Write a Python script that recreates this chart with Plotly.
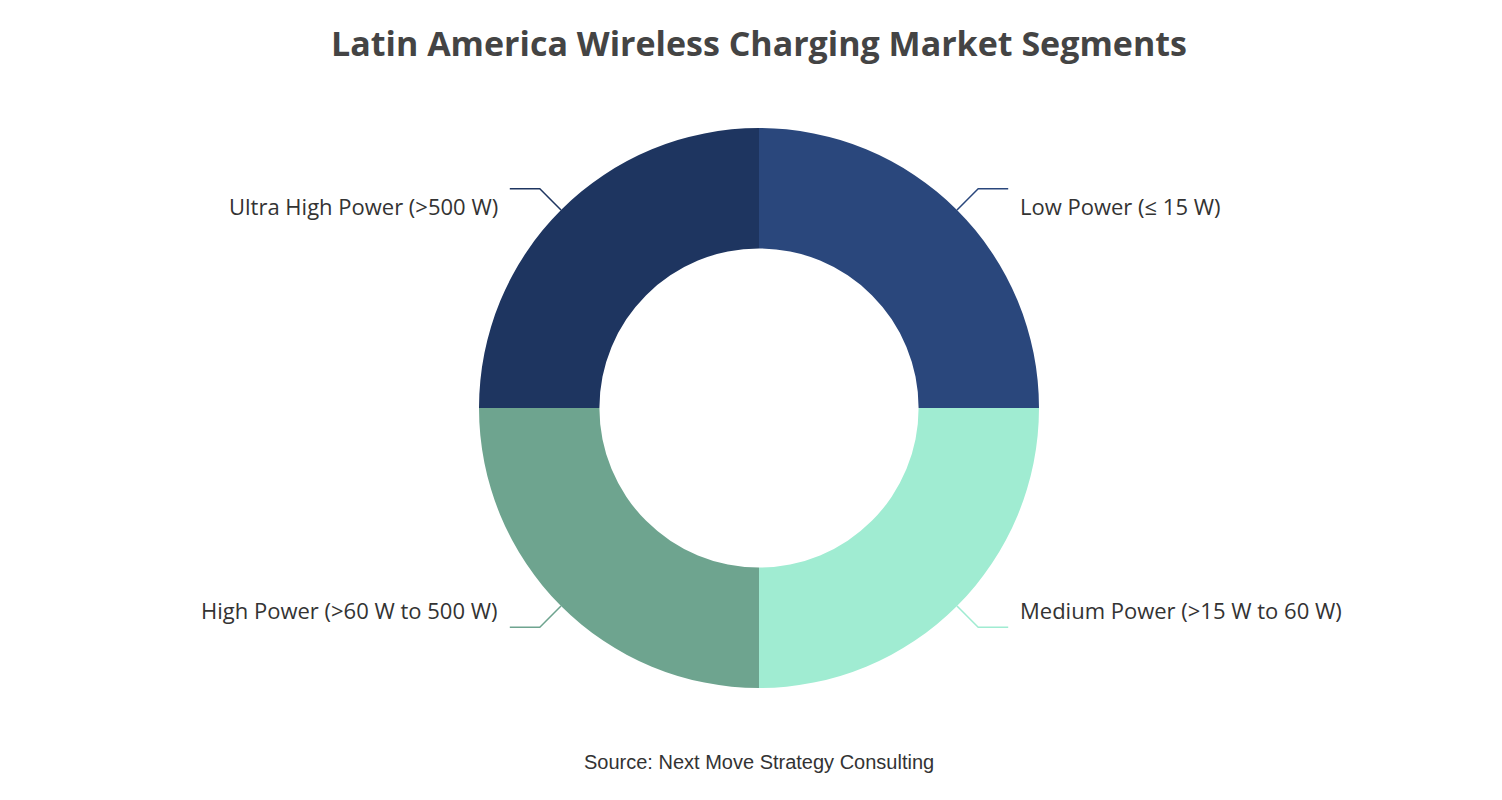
import math
import plotly.graph_objects as go

segments = ["Low Power (≤ 15 W)", "Medium Power (>15 W to 60 W)",
            "High Power (>60 W to 500 W)", "Ultra High Power (>500 W)"]
shares = [25, 25, 25, 25]
colors = ["#2a477c", "#a0ecd2", "#6ea48f", "#1e3560"]

W, H = 1502, 800
top, bottom = 120, 120
cx, cy, R = W / 2, 400, 280

fig = go.Figure(go.Pie(
    labels=segments, values=shares, hole=0.57, sort=False, direction="clockwise",
    rotation=0, marker=dict(colors=colors), textinfo="none", showlegend=False,
    domain=dict(x=[0, 1], y=[0, 1]),
))


def px(x):
    return x / W


def py(y):
    return (H - bottom - y) / (H - top - bottom)


shapes, annotations = [], []
total = sum(shares)
acc = 0
for name, val, col in zip(segments, shares, colors):
    mid = (acc + val / 2) / total * 2 * math.pi
    acc += val
    sx, sy = cx + R * math.sin(mid), cy - R * math.cos(mid)
    side = 1 if math.sin(mid) >= 0 else -1
    ex, ey = cx + (R + 30) * math.sin(mid), cy - (R + 30) * math.cos(mid)
    hx = ex + side * 30
    shapes.append(dict(type="path", xref="paper", yref="paper",
                       path=f"M {px(sx)} {py(sy)} L {px(ex)} {py(ey)} L {px(hx)} {py(ey)}",
                       line=dict(color=col, width=1.5)))
    annotations.append(dict(x=px(hx + side * 10), y=py(ey), xref="paper", yref="paper",
                            text=name, showarrow=False,
                            xanchor="left" if side > 0 else "right",
                            font=dict(family="Open Sans", size=22, color="#333")))

annotations.append(dict(x=0.5, y=py(767), xref="paper", yref="paper",
                        text="Source: Next Move Strategy Consulting", showarrow=False,
                        font=dict(family="Liberation Sans, Arial", size=20, color="#333")))

fig.update_layout(
    width=W, height=H, paper_bgcolor="white", plot_bgcolor="white",
    margin=dict(l=0, r=0, t=top, b=bottom),
    title=dict(text="<b>Latin America Wireless Charging Market Segments</b>",
               x=0.5, y=0.97, xanchor="center", yanchor="top",
               font=dict(family="Open Sans", size=34, color="#444")),
    shapes=shapes, annotations=annotations,
)

fig.write_html("out.html")
